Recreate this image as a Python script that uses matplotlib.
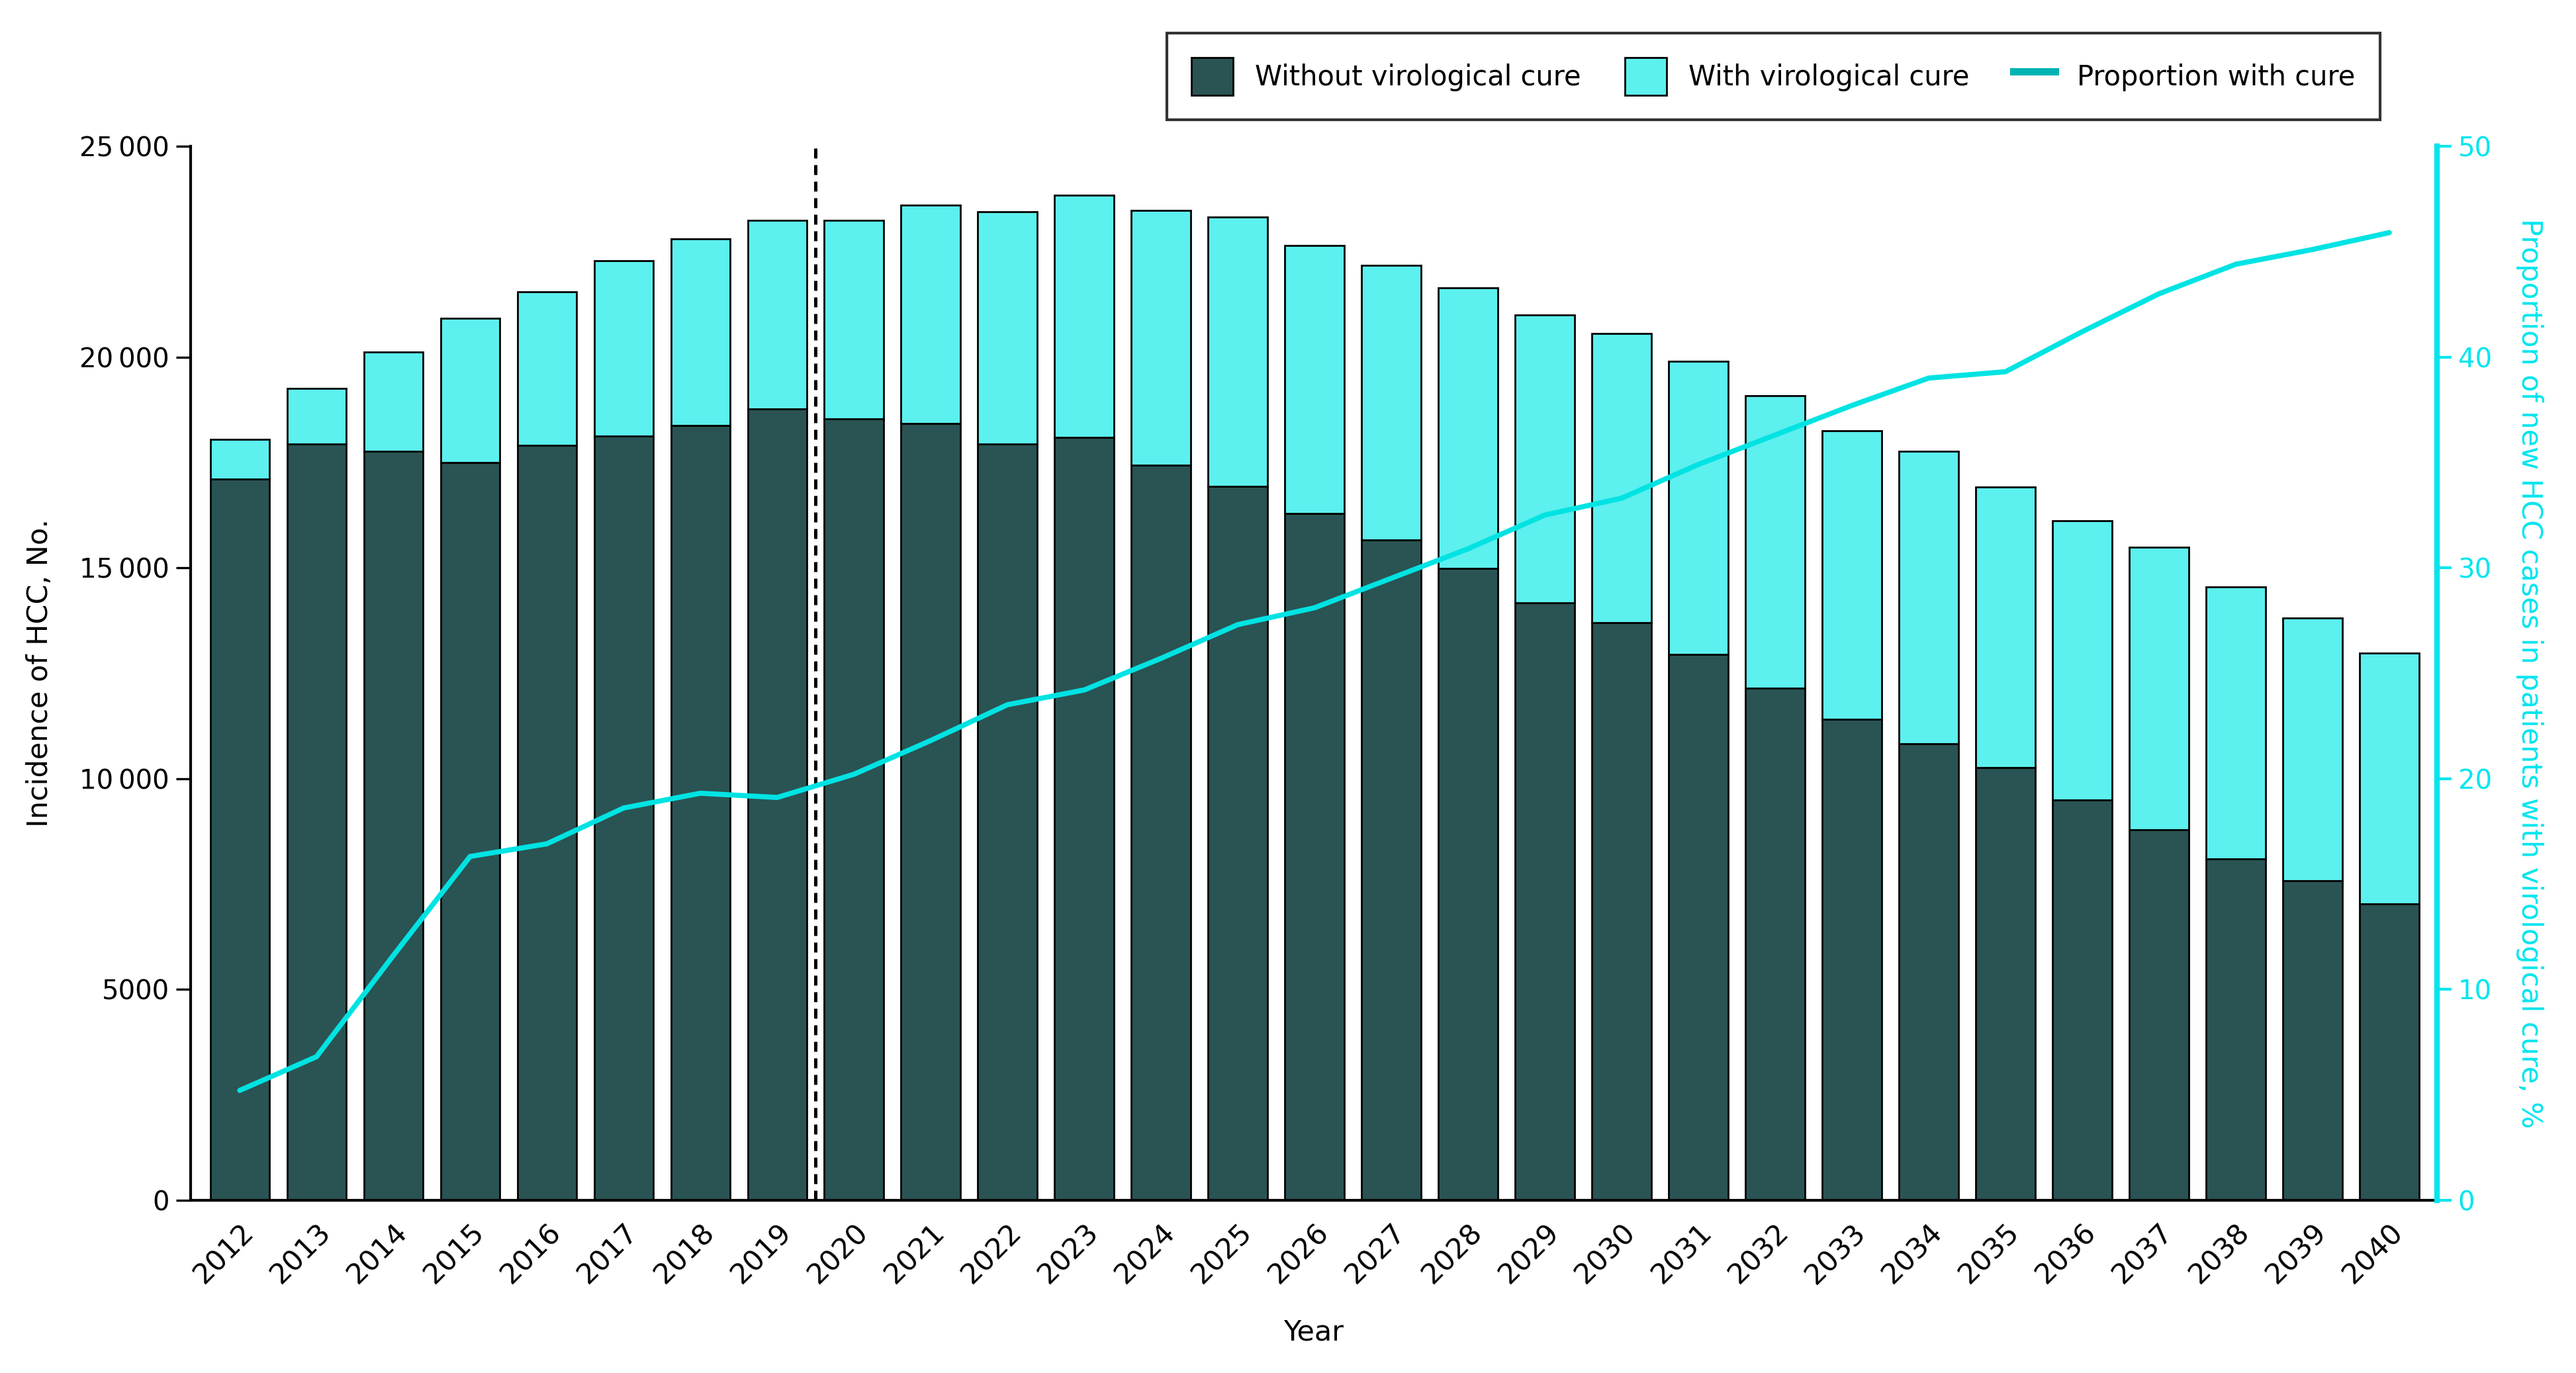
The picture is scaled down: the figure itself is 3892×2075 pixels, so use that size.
import numpy as np
import matplotlib.pyplot as plt
from matplotlib.patches import Patch
from matplotlib.lines import Line2D

years = list(range(2012, 2041))
without_cure = [17110, 17940, 17760, 17500, 17910, 18130, 18380, 18770,
                18540, 18430, 17940, 18090, 17430, 16930, 16280, 15660,
                14990, 14170, 13700, 12950, 12150, 11400, 10830, 10260,
                9490, 8790, 8100, 7580, 7030]
total_cases = [18050, 19260, 20110, 20920, 21540, 22280, 22800, 23240,
               23240, 23610, 23450, 23840, 23470, 23320, 22640, 22180,
               21640, 21000, 20560, 19900, 19080, 18250, 17760, 16910,
               16110, 15480, 14550, 13810, 12980]
with_cure = [t - w for t, w in zip(total_cases, without_cure)]
proportion_cure = [5.2, 6.8, 11.6, 16.3, 16.9, 18.6, 19.3, 19.1,
                   20.2, 21.8, 23.5, 24.2, 25.7, 27.3, 28.1, 29.5,
                   30.9, 32.5, 33.3, 34.9, 36.3, 37.7, 39.0, 39.3,
                   41.2, 43.0, 44.4, 45.1, 45.9]

dark = '#2a5353'
cyan = '#5cf0ee'
line_col = '#00e3e3'
axis_cyan = '#00e5ee'

fig = plt.figure(figsize=(19.46, 10.375), dpi=200)
ax = fig.add_axes([0.074, 0.126, 0.872, 0.7675])
ax2 = ax.twinx()

x = np.arange(len(years))
ax.bar(x, without_cure, width=0.77, color=dark, edgecolor='black', linewidth=1.0, zorder=2)
ax.bar(x, with_cure, width=0.77, bottom=without_cure, color=cyan, edgecolor='black',
       linewidth=1.0, zorder=2)
ax.axvline(7.5, color='black', linestyle=(0, (3, 2)), linewidth=1.8, zorder=3)

ax2.plot(x, proportion_cure, color=line_col, linewidth=2.8, solid_capstyle='round', zorder=4)

ax.set_xlim(-0.64, 28.62)
ax.set_ylim(0, 25000)
ax2.set_ylim(0, 50)

ax.set_yticks([0, 5000, 10000, 15000, 20000, 25000])
ax.set_yticklabels(['0', '5000', '10\u2009000', '15\u2009000', '20\u2009000', '25\u2009000'])
ax.set_xticks(x)
ax.set_xticklabels([str(y) for y in years], rotation=45, ha='right', rotation_mode='anchor')
ax.tick_params(axis='x', length=0, labelsize=15.5, pad=10)
ax.tick_params(axis='y', length=8, width=1.2, labelsize=14.5, direction='out')

ax2.set_yticks([0, 10, 20, 30, 40, 50])
ax2.tick_params(axis='y', colors=axis_cyan, length=8, width=1.5, labelsize=14.5)
for t in ax2.get_yticklabels():
    t.set_color(axis_cyan)

for s in ['top', 'right']:
    ax.spines[s].set_visible(False)
for s in ['top', 'left', 'bottom']:
    ax2.spines[s].set_visible(False)
ax.spines['left'].set_linewidth(1.5)
ax.spines['bottom'].set_linewidth(1.5)
ax2.spines['right'].set_color(axis_cyan)
ax2.spines['right'].set_linewidth(3)

ax.set_ylabel('Incidence of HCC, No.', fontsize=15.5, labelpad=14)
ax.set_xlabel('Year', fontsize=15.5, labelpad=16)
ax2.set_ylabel('Proportion of new HCC cases in patients with virological cure, %',
               fontsize=15.5, color=axis_cyan, rotation=270, labelpad=28)

handles = [Patch(facecolor=dark, edgecolor='black', label='Without virological cure'),
           Patch(facecolor=cyan, edgecolor='black', label='With virological cure'),
           Line2D([0], [0], color='#00b3b3', linewidth=4, label='Proportion with cure')]
leg = fig.legend(handles=handles, loc='upper right', bbox_to_anchor=(0.924, 0.976), ncol=3,
                 frameon=True, fancybox=False, edgecolor='black', fontsize=15,
                 handlelength=1.5, handleheight=1.7, columnspacing=1.6, borderpad=0.9,
                 borderaxespad=0)
leg.get_frame().set_linewidth(1.5)

plt.savefig('out.png', dpi=200)
